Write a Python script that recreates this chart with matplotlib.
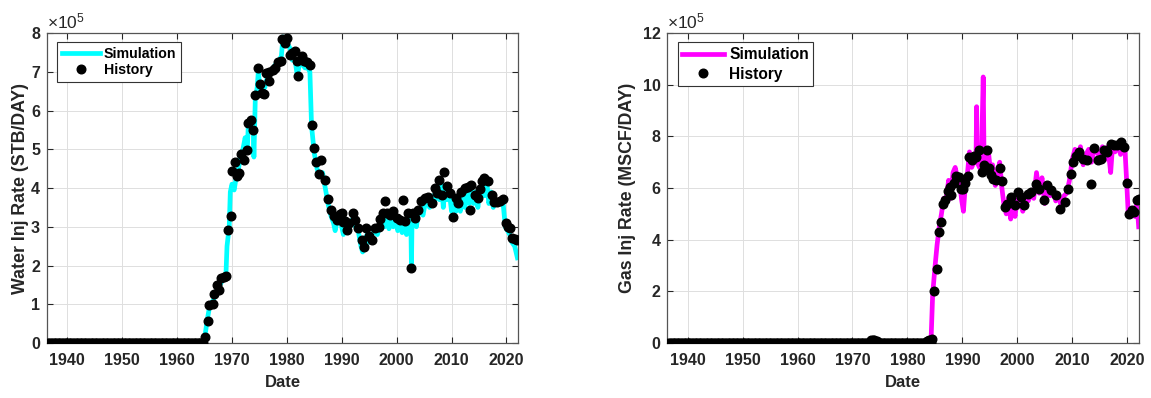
import numpy as np
import matplotlib
matplotlib.use('Agg')
import matplotlib.pyplot as plt
from matplotlib.ticker import FuncFormatter

plt.rcParams['font.family'] = ['Liberation Sans', 'DejaVu Sans']
plt.rcParams['mathtext.fontset'] = 'custom'
plt.rcParams['mathtext.rm'] = 'Liberation Sans'
plt.rcParams['mathtext.default'] = 'regular'

SCALE = 1e5

# ---- Water injection (values in 1e5 STB/DAY) ----
water_hist_zero_years = np.arange(1936.5, 1965.0, 0.25)
water_hist_years = [
    1965.1, 1965.6, 1965.9, 1966.5, 1966.8, 1967.3, 1967.7, 1968.0, 1968.6, 1969.0,
    1969.3, 1969.8, 1970.0, 1970.5, 1971.0, 1971.3, 1971.7, 1972.2, 1972.7, 1973.0,
    1973.4, 1973.9, 1974.2, 1974.7, 1975.1, 1975.4, 1975.9, 1976.2, 1976.7, 1976.8,
    1977.4, 1977.9, 1978.4, 1978.9, 1979.2, 1979.7, 1980.1, 1980.5, 1981.0, 1981.4,
    1981.8, 1982.1, 1982.7, 1983.2, 1983.7, 1984.2, 1984.6, 1985.0, 1985.4, 1985.9,
    1986.3, 1986.9, 1987.5, 1988.0, 1988.5, 1989.1, 1989.7, 1990.0, 1990.3, 1990.6,
    1990.9, 1991.3, 1992.0, 1992.4, 1993.0, 1993.6, 1994.1, 1994.5, 1995.0, 1995.5,
    1996.1, 1996.7, 1997.0, 1997.5, 1997.9, 1998.2, 1998.8, 1999.4, 2000.0, 2000.6,
    2001.1, 2001.5, 2002.1, 2002.7, 2002.9, 2003.3, 2003.9, 2004.5, 2005.2, 2005.8,
    2006.4, 2007.0, 2007.3, 2007.8, 2008.2, 2008.7, 2009.1, 2009.7, 2010.3, 2010.9,
    2011.2, 2011.8, 2012.4, 2013.0, 2013.3, 2013.6, 2014.2, 2014.8, 2015.2, 2015.6,
    2016.0, 2016.7, 2017.3, 2017.7, 2018.2, 2018.8, 2019.4, 2019.9, 2020.3, 2020.7,
    2021.1, 2021.5, 2022.0,
]
water_hist_vals = [
    0.15, 0.58, 0.98, 1.02, 1.26, 1.50, 1.37, 1.67, 1.70, 1.73,
    2.92, 3.28, 4.45, 4.66, 4.31, 4.40, 4.88, 4.72, 4.98, 5.67,
    5.76, 5.50, 6.40, 7.09, 6.69, 6.45, 6.43, 6.97, 7.00, 6.75,
    7.05, 7.09, 7.24, 7.27, 7.84, 7.74, 7.87, 7.44, 7.48, 7.53,
    7.28, 6.90, 7.41, 7.29, 7.24, 7.18, 5.63, 5.03, 4.66, 4.36,
    4.72, 4.21, 3.71, 3.43, 3.28, 3.17, 3.34, 3.35, 3.13, 3.14,
    2.92, 3.09, 3.35, 3.18, 2.97, 2.66, 2.49, 2.97, 2.75, 2.66,
    2.97, 3.00, 3.20, 3.35, 3.66, 3.35, 3.31, 3.42, 3.22, 3.18,
    3.70, 3.14, 3.35, 1.93, 3.35, 3.22, 3.44, 3.66, 3.74, 3.78,
    3.61, 4.00, 3.87, 4.20, 3.83, 4.41, 4.06, 3.87, 3.25, 3.74,
    3.61, 3.91, 3.99, 4.04, 3.44, 4.09, 3.83, 3.74, 3.97, 4.17,
    4.26, 4.17, 3.83, 3.63, 3.63, 3.66, 3.72, 3.11, 3.00, 2.97,
    2.71, 2.68, 2.65,
]
water_sim_years = [
    1936.5, 1964.9, 1965.1, 1965.5, 1966.0, 1966.6, 1967.0, 1967.6, 1968.2, 1968.9,
    1969.1, 1969.5, 1969.7, 1970.0, 1970.4, 1970.8, 1971.2, 1971.6, 1972.0, 1972.4,
    1972.8, 1973.0, 1973.4, 1973.9, 1974.0, 1974.25, 1974.6, 1974.8, 1975.1, 1975.5,
    1976.0, 1976.5, 1977.0, 1977.5, 1978.0, 1978.6, 1979.0, 1979.3, 1979.8, 1980.2,
    1980.6, 1981.0, 1981.5, 1981.9, 1982.3, 1982.8, 1983.3, 1983.8, 1984.2, 1984.5,
    1985.0, 1985.5, 1986.0, 1986.5, 1987.0, 1987.5, 1988.0, 1988.5, 1988.8, 1989.2,
    1989.6, 1990.0, 1990.3, 1990.7, 1991.0, 1991.5, 1992.0, 1992.5, 1993.0, 1993.5,
    1993.8, 1994.2, 1994.6, 1995.0, 1995.5, 1996.0, 1996.5, 1997.0, 1997.4, 1997.8,
    1998.2, 1998.6, 1999.0, 1999.4, 1999.8, 2000.2, 2000.6, 2001.0, 2001.4, 2001.8,
    2002.2, 2002.6, 2002.7, 2002.8, 2003.2, 2003.6, 2004.0, 2004.4, 2004.8, 2005.2,
    2005.6, 2006.0, 2006.5, 2007.0, 2007.4, 2007.8, 2008.2, 2008.5, 2008.8, 2009.2,
    2009.6, 2010.0, 2010.4, 2010.8, 2011.2, 2011.6, 2012.0, 2012.4, 2012.8, 2013.2,
    2013.6, 2014.0, 2014.4, 2014.8, 2015.2, 2015.6, 2016.0, 2016.4, 2016.8, 2017.2,
    2017.6, 2018.0, 2018.5, 2019.0, 2019.4, 2019.8, 2020.2, 2020.6, 2021.0, 2021.5,
    2022.0,
]
water_sim_vals = [
    0.0, 0.0, 0.2, 0.6, 1.0, 1.1, 1.3, 1.45, 1.6, 1.75,
    2.5, 3.0, 3.9, 4.1, 3.95, 4.3, 4.5, 4.9, 5.0, 5.3,
    5.0, 5.7, 5.8, 5.4, 4.8, 6.3, 6.6, 7.0, 6.6, 6.5,
    6.6, 6.9, 7.0, 7.1, 7.2, 7.3, 7.4, 7.9, 7.7, 7.7,
    7.6, 7.3, 7.3, 6.9, 7.2, 7.2, 7.1, 7.1, 7.0, 5.6,
    4.9, 4.5, 4.3, 4.4, 4.0, 3.6, 3.3, 3.1, 2.9, 3.2,
    3.3, 3.0, 2.8, 3.1, 2.9, 3.1, 3.2, 3.0, 2.9, 2.5,
    2.35, 2.6, 2.8, 2.6, 2.8, 2.9, 2.8, 3.1, 3.2, 3.0,
    3.3, 2.95, 3.2, 3.0, 3.3, 2.9, 3.1, 2.85, 3.1, 2.8,
    3.2, 3.0, 1.95, 3.1, 3.2, 3.0, 3.4, 3.5, 3.3, 3.6,
    3.7, 3.5, 3.8, 3.7, 4.0, 3.7, 4.1, 3.5, 4.0, 3.7,
    3.9, 3.4, 3.6, 3.4, 3.7, 3.4, 3.8, 3.5, 3.9, 3.6,
    4.0, 3.6, 3.9, 3.5, 4.0, 4.1, 3.8, 4.2, 3.6, 3.9,
    3.5, 3.7, 3.6, 3.7, 3.6, 3.0, 2.9, 2.8, 2.6, 2.5,
    2.2,
]

# ---- Gas injection (values in 1e5 MSCF/DAY) ----
gas_hist_zero_years = np.arange(1936.5, 1984.5, 0.25)
gas_hist_years = [
    1973.4, 1973.7, 1974.0, 1974.4, 1983.6, 1984.0, 1984.4, 1984.8, 1985.3, 1985.7,
    1986.1, 1986.4, 1986.8, 1987.3, 1987.7, 1988.0, 1988.5, 1988.9, 1989.3, 1989.7,
    1990.1, 1990.5, 1991.0, 1991.3, 1991.8, 1992.2, 1992.5, 1993.0, 1993.5, 1993.9,
    1994.4, 1994.8, 1995.2, 1995.6, 1996.2, 1996.8, 1997.2, 1997.7, 1998.2, 1998.9,
    1999.5, 2000.1, 2000.7, 2001.3, 2001.9, 2002.5, 2003.4, 2004.0, 2004.8, 2005.5,
    2006.1, 2007.0, 2007.7, 2008.6, 2009.3, 2009.8, 2010.1, 2010.7, 2011.3, 2011.9,
    2012.7, 2013.4, 2013.9, 2014.7, 2015.2, 2015.8, 2016.4, 2017.1, 2017.6, 2018.2,
    2018.8, 2019.4, 2020.0, 2020.3, 2020.9, 2021.3, 2021.8, 2022.1,
]
gas_hist_vals = [
    0.10, 0.12, 0.10, 0.08, 0.08, 0.12, 0.15, 2.00, 2.85, 4.28,
    4.68, 5.39, 5.52, 5.90, 6.04, 5.75, 6.19, 6.45, 6.43, 5.97,
    5.97, 6.19, 6.46, 7.20, 7.10, 7.26, 7.20, 7.46, 6.62, 6.88,
    7.46, 6.79, 6.49, 6.36, 6.30, 6.79, 6.27, 5.26, 5.39, 5.65,
    5.33, 5.85, 5.65, 5.33, 5.78, 5.85, 6.17, 5.97, 5.52, 6.10,
    5.91, 5.72, 5.20, 5.46, 5.97, 6.55, 7.00, 7.26, 7.39, 7.14,
    7.07, 6.17, 7.56, 7.07, 7.14, 7.48, 7.39, 7.72, 7.65, 7.65,
    7.78, 7.59, 6.20, 5.00, 5.14, 5.07, 5.52, 5.59,
]
gas_sim_years = [
    1936.5, 1973.0, 1973.5, 1974.5, 1975.0, 1983.5, 1984.3, 1984.6, 1985.0, 1985.4,
    1985.8, 1986.2, 1986.6, 1987.0, 1987.5, 1987.9, 1988.3, 1988.7, 1989.1, 1989.5,
    1989.9, 1990.2, 1990.5, 1990.9, 1991.3, 1991.7, 1992.1, 1992.5, 1992.6, 1992.7,
    1993.1, 1993.5, 1993.8, 1993.95, 1994.3, 1994.7, 1995.1, 1995.5, 1996.0, 1996.4,
    1996.8, 1997.2, 1997.6, 1998.0, 1998.4, 1998.8, 1999.2, 1999.6, 2000.0, 2000.5,
    2001.0, 2001.5, 2002.0, 2002.5, 2003.0, 2003.5, 2004.0, 2004.5, 2005.0, 2005.5,
    2006.0, 2006.5, 2007.0, 2007.5, 2008.0, 2008.5, 2009.0, 2009.5, 2010.0, 2010.5,
    2011.0, 2011.5, 2012.0, 2012.5, 2013.0, 2013.5, 2014.0, 2014.5, 2015.0, 2015.5,
    2016.0, 2016.5, 2017.0, 2017.3, 2017.8, 2018.3, 2018.8, 2019.2, 2019.6, 2019.9,
    2020.2, 2020.6, 2021.0, 2021.4, 2021.8, 2022.1,
]
gas_sim_vals = [
    0.0, 0.0, 0.1, 0.1, 0.0, 0.0, 0.1, 1.9, 2.9, 3.8,
    4.5, 5.0, 5.6, 5.5, 6.3, 5.6, 6.6, 6.8, 6.4, 6.2,
    5.5, 5.1, 6.0, 6.5, 7.4, 6.8, 7.0, 7.4, 9.15, 7.0,
    6.8, 7.4, 10.3, 7.2, 6.6, 7.5, 6.7, 6.9, 6.1, 6.6,
    7.0, 6.0, 5.3, 5.0, 5.6, 4.8, 5.3, 4.9, 5.7, 5.5,
    5.1, 5.6, 5.5, 5.8, 5.6, 6.6, 5.8, 6.4, 5.4, 6.0,
    5.7, 5.9, 5.5, 5.7, 5.3, 5.7, 5.8, 6.3, 7.1, 7.5,
    7.2, 7.6, 6.9, 7.3, 7.5, 7.0, 7.5, 7.4, 7.2, 7.6,
    7.1, 7.6, 6.6, 7.5, 7.4, 7.7, 7.3, 7.6, 7.5, 6.3,
    5.0, 4.9, 5.2, 4.9, 5.4, 4.5,
]

xticks = [1940, 1950, 1960, 1970, 1980, 1990, 2000, 2010, 2020]
dark = '#262626'

fig = plt.figure(figsize=(11.51, 3.98), dpi=100)
ax1 = fig.add_axes([0.0408, 0.138, 0.4092, 0.779])
ax2 = fig.add_axes([0.5798, 0.138, 0.4095, 0.779])

panels = [
    (ax1, water_sim_years, water_sim_vals, water_hist_zero_years, water_hist_years,
     water_hist_vals, '#00ffff', 'Water Inj Rate (STB/DAY)', 8, range(0, 9), 10.2, 0.2, 1.5),
    (ax2, gas_sim_years, gas_sim_vals, gas_hist_zero_years, gas_hist_years,
     gas_hist_vals, '#ff00ff', 'Gas Inj Rate (MSCF/DAY)', 12, range(0, 13, 2), 11.2, 0.3, 5),
]

for ax, sy, sv, hz, hy, hv, col, ylab, ymax, yt, legsize, legspace, ypad in panels:
    ax.plot(sy, np.array(sv) * SCALE, color=col, lw=3.4, zorder=2, label='Simulation')
    hx = np.concatenate([hz, hy])
    hvals = np.concatenate([np.zeros(len(hz)), hv]) * SCALE
    ax.plot(hx, hvals, 'o', color='black', ms=6.2, zorder=3, label='History')

    ax.set_xlim(1936.3, 2022.1)
    ax.set_ylim(0, ymax * SCALE)
    ax.set_xticks(xticks)
    ax.set_yticks([v * SCALE for v in yt])
    ax.yaxis.set_major_formatter(FuncFormatter(lambda v, p: '%d' % round(v / SCALE)))
    ax.grid(True, color='#dedede', lw=0.7)
    ax.set_axisbelow(True)
    ax.tick_params(direction='in', top=True, right=True, length=4, width=0.8,
                   labelsize=11.5, colors=dark)
    ax.tick_params(axis='x', pad=7)
    ax.tick_params(axis='y', pad=5)
    for lab in ax.get_xticklabels() + ax.get_yticklabels():
        lab.set_fontweight('bold')
    for sp in ax.spines.values():
        sp.set_color('#555555')
        sp.set_linewidth(0.9)
    ax.set_xlabel('Date', fontsize=12, fontweight='bold', color=dark, labelpad=5)
    ax.set_ylabel(ylab, fontsize=12.8, fontweight='bold', color=dark, labelpad=ypad)
    ax.text(0.0, 1.006, r'$\times10^5$', transform=ax.transAxes, fontsize=12.5,
            color=dark, va='bottom', ha='left')

    leg = ax.legend(loc='upper left', bbox_to_anchor=(0.022, 0.97), frameon=True,
                    fancybox=False, framealpha=1, edgecolor='#333333',
                    prop={'weight': 'bold', 'size': legsize}, handlelength=2.7,
                    borderpad=0.3, labelspacing=legspace, handletextpad=0.3,
                    borderaxespad=0)
    leg.get_frame().set_linewidth(0.8)

fig.savefig('out.png', dpi=100)
